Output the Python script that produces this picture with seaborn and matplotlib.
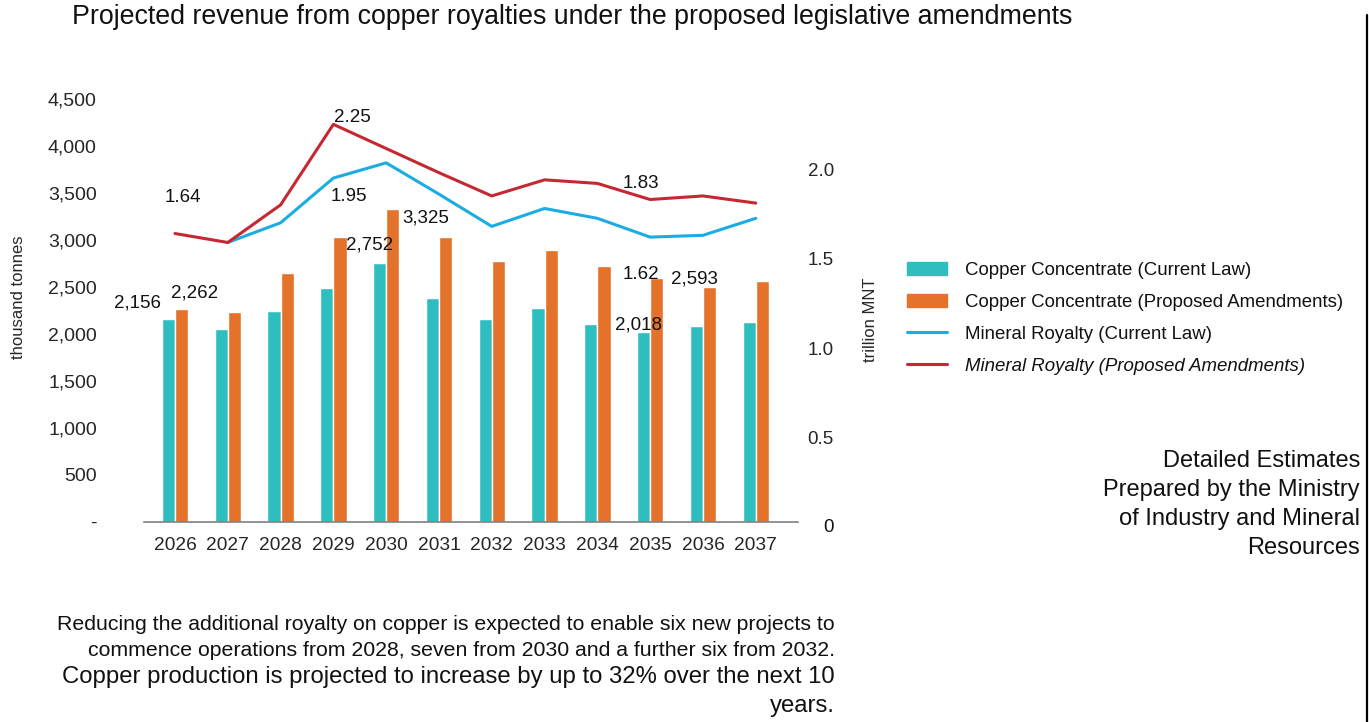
import numpy as np
import pandas as pd
import seaborn as sns
import matplotlib.pyplot as plt
from matplotlib.patches import Patch
from matplotlib.lines import Line2D
from matplotlib.ticker import FuncFormatter

# values
years = [str(y) for y in range(2026, 2038)]
copper_current = [2156, 2050, 2240, 2485, 2752, 2380, 2156, 2275, 2100, 2018, 2082, 2125]
copper_proposed = [2262, 2230, 2640, 3030, 3325, 3030, 2775, 2895, 2715, 2593, 2500, 2555]
royalty_current = [np.nan, 1.59, 1.70, 1.95, 2.035, 1.86, 1.68, 1.78, 1.725, 1.62, 1.63, 1.725]
royalty_proposed = [1.64, 1.59, 1.80, 2.25, 2.115, 1.98, 1.85, 1.94, 1.92, 1.83, 1.85, 1.81]

series_names = ["Copper Concentrate (Current Law)",
                "Copper Concentrate (Proposed Amendments)",
                "Mineral Royalty (Current Law)",
                "Mineral Royalty (Proposed Amendments)"]

title = "Projected revenue from copper royalties under the proposed legislative amendments"
note_small = ["Reducing the additional royalty on copper is expected to enable six new projects to",
              "commence operations from 2028, seven from 2030 and a further six from 2032."]
note_big = ["Copper production is projected to increase by up to 32% over the next 10",
            "years."]
side_note = ["Detailed Estimates", "Prepared by the Ministry",
             "of Industry and Mineral", "Resources"]

TEAL = "#2FBEC0"
ORANGE = "#E4722A"
BLUE = "#1BACE2"
RED = "#C62832"

sns.set_style("white")
plt.rcParams['font.family'] = ['Liberation Sans', 'DejaVu Sans']
plt.rcParams['text.color'] = '#111111'

W, H = 1369, 722
fig = plt.figure(figsize=(W / 100, H / 100), dpi=100)
ax = fig.add_axes([144 / W, 1 - 521.5 / H, 654 / W, 426.5 / H])

bars = pd.DataFrame({
    "year": years * 2,
    "value": copper_current + copper_proposed,
    "series": [series_names[0]] * 12 + [series_names[1]] * 12,
})
sns.barplot(data=bars, x="year", y="value", hue="series",
            palette=[TEAL, ORANGE], width=0.5, gap=0, saturation=1,
            legend=False, ax=ax)

ax.set_xlim(-0.587, 11.8)
ax.set_ylim(0, 4540)
ax.set_yticks(np.arange(0, 4501, 500))
ax.yaxis.set_major_formatter(FuncFormatter(lambda v, p: "-" if v == 0 else f"{v:,.0f}"))
ax.tick_params(axis='y', length=0, pad=34, labelsize=14)
ax.tick_params(axis='x', length=0, pad=11.5, labelsize=13.8)
ax.set_xlabel("")
ax.set_ylabel("thousand tonnes", fontsize=12)
ax.yaxis.set_label_coords(-0.180, 0.526)
for s in ["top", "right", "left"]:
    ax.spines[s].set_visible(False)
ax.spines["bottom"].set_color("#808080")
ax.spines["bottom"].set_linewidth(1.2)

ax2 = ax.twinx()
xs = np.arange(len(years))
sns.lineplot(x=xs, y=royalty_current, color=BLUE, linewidth=2.2, ax=ax2)
sns.lineplot(x=xs, y=royalty_proposed, color=RED, linewidth=2.2, ax=ax2)
ax2.set_ylim(0.031, 2.414)
ax2.set_yticks([0.5, 1.0, 1.5, 2.0])
ax2.set_yticklabels(["0.5", "1.0", "1.5", "2.0"])
ax2.tick_params(axis='y', length=0, pad=7, labelsize=13.5)
ax2.text((828 - 144) / 654, 0, "0", transform=ax2.get_yaxis_transform(),
         ha='center', va='center', fontsize=13.5, clip_on=False)
ax2.set_ylabel("trillion MNT", fontsize=12)
ax2.yaxis.set_label_coords(1.099, 0.472)
for s in ax2.spines.values():
    s.set_visible(False)

# data labels (offsets in points)
def label(a, x, y, txt, dx, dy):
    a.annotate(txt, xy=(x, y), xytext=(dx, dy), textcoords='offset points',
               ha='center', va='center', fontsize=13.5)

off = 0.125
label(ax, 0 - off, copper_current[0], f"{copper_current[0]:,}", -22, 11.5)
label(ax, 0 + off, copper_proposed[0], f"{copper_proposed[0]:,}", 9.5, 11.5)
label(ax, 4 - off, copper_current[4], f"{copper_current[4]:,}", -7, 13)
label(ax, 4 + off, copper_proposed[4], f"{copper_proposed[4]:,}", 24, -6.5)
label(ax, 9 - off, copper_current[9], f"{copper_current[9]:,}", -4, 5)
label(ax, 9 + off, copper_proposed[9], f"{copper_proposed[9]:,}", 27, -1)
label(ax2, 0, royalty_proposed[0], f"{royalty_proposed[0]:.2f}", 6, 26)
label(ax2, 3, royalty_proposed[3], f"{royalty_proposed[3]:.2f}", 13.5, 5)
label(ax2, 3, royalty_current[3], f"{royalty_current[3]:.2f}", 11, -13)
label(ax2, 9, royalty_proposed[9], f"{royalty_proposed[9]:.2f}", -7, 11.5)
label(ax2, 9, royalty_current[9], f"{royalty_current[9]:.2f}", -7, -27)

handles = [Patch(color=TEAL), Patch(color=ORANGE),
           Line2D([], [], color=BLUE, lw=2.2), Line2D([], [], color=RED, lw=2.2)]
leg = fig.legend(handles, series_names, loc='upper left',
                 bbox_to_anchor=(907 / W, 1 - 262 / H), frameon=False,
                 fontsize=13.4, handlelength=2.15, handletextpad=0.95,
                 labelspacing=0.8, borderpad=0, borderaxespad=0)
leg.get_texts()[3].set_fontstyle('italic')

fig.text(72 / W, 1 - 17 / H, title, ha='left', va='center', fontsize=19.3)

for i, line in enumerate(note_small):
    fig.text(835 / W, 1 - (625 + 25 * i) / H, line, ha='right', va='center', fontsize=15.3)
for i, line in enumerate(note_big):
    fig.text(835 / W, 1 - (677 + 29 * i) / H, line, ha='right', va='center', fontsize=17.2)
for i, line in enumerate(side_note):
    fig.text(1360 / W, 1 - (461 + 29 * i) / H, line, ha='right', va='center', fontsize=17)

fig.add_artist(Line2D([1367 / W, 1367 / W], [0, 1 - 15 / H], color='black', lw=1.6,
                      transform=fig.transFigure))

fig.savefig("out.png", dpi=100)
